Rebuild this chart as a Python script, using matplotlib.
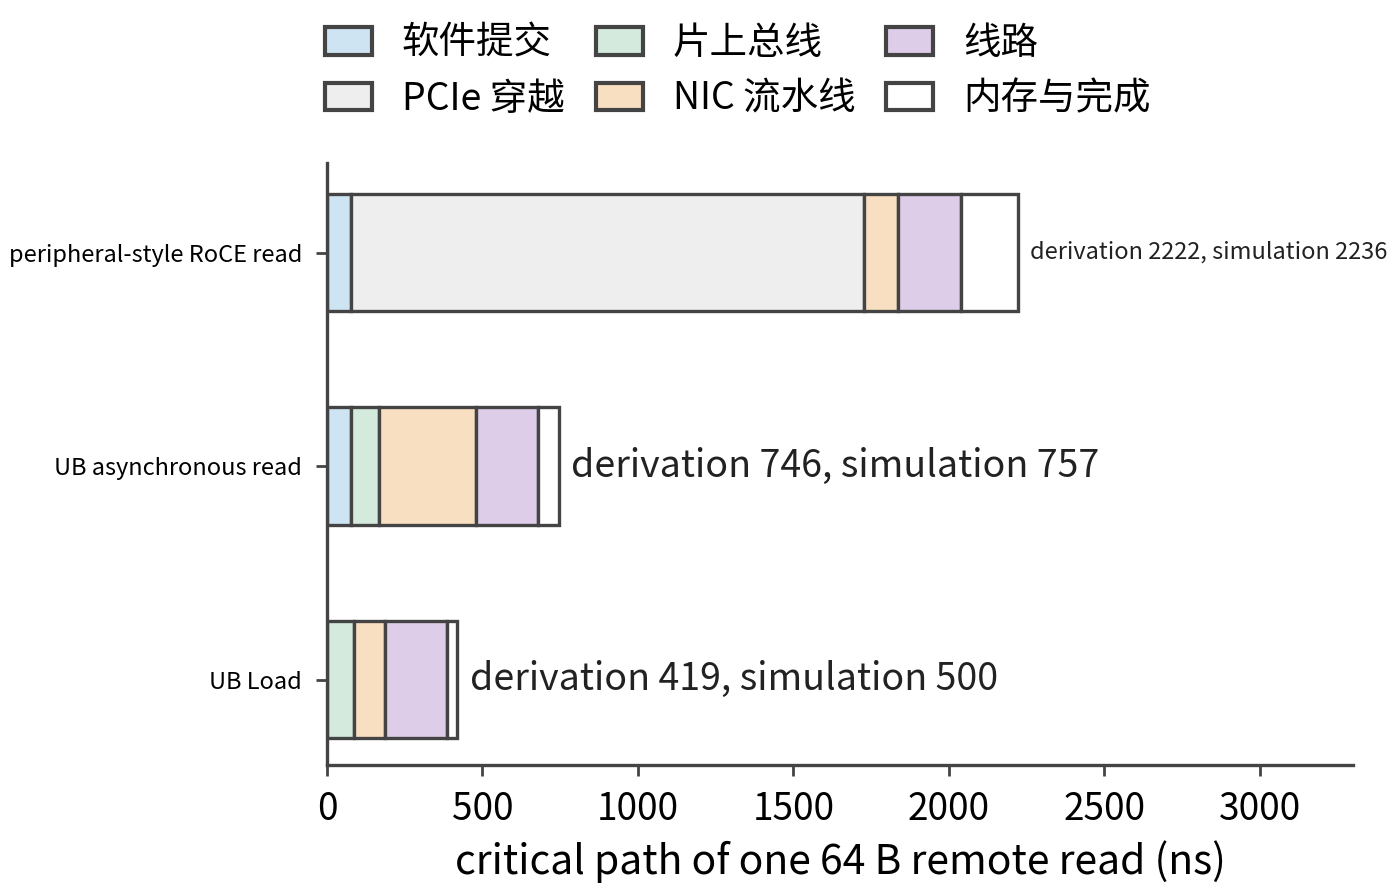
import matplotlib
matplotlib.use("Agg")
import matplotlib.pyplot as plt
import numpy as np
from matplotlib.patches import Patch

plt.rcParams["font.family"] = ["Noto Sans CJK SC", "DejaVu Sans"]

paths = ["peripheral-style RoCE read", "UB asynchronous read", "UB Load"]
stages = ["软件提交", "PCIe 穿越", "片上总线", "NIC 流水线", "线路", "内存与完成"]
colors = ["#cfe4f3", "#eeeeee", "#d3eadc", "#f9dfc1", "#ddcde8", "#ffffff"]

# ns per stage, one list per stage (order matches paths)
software = [77, 77, 0]
pcie = [1651, 0, 0]
onchip = [0, 90, 88]
nic = [110, 312, 98]
wire = [200, 200, 200]
memory = [184, 67, 33]

derivation = [2222, 746, 419]
simulation = [2236, 757, 500]

stage_values = [software, pcie, onchip, nic, wire, memory]
edge = "#444444"

fig = plt.figure(figsize=(7, 4.46), dpi=200)
ax = fig.add_axes([0.2336, 0.1424, 0.7328, 0.675])

y = np.arange(len(paths))
left = np.zeros(len(paths))
for vals, col in zip(stage_values, colors):
    vals = np.array(vals, dtype=float)
    mask = vals > 0
    ax.barh(y[mask], vals[mask], left=left[mask], height=0.55,
            color=col, edgecolor=edge, linewidth=1.2)
    left += vals

for i in range(len(paths)):
    fs = 8.5 if i == 0 else 13.5
    ax.annotate(f"derivation {derivation[i]}, simulation {simulation[i]}",
                xy=(left[i], y[i]), xytext=(4.5, 0), textcoords="offset points",
                va="center", ha="left", fontsize=fs, color="#222222")

ax.set_yticks(y)
ax.set_yticklabels(paths, fontsize=8.5)
ax.set_ylim(2.4, -0.42)
ax.set_xlim(0, 3300)
ax.set_xticks([0, 500, 1000, 1500, 2000, 2500, 3000])
ax.tick_params(axis="x", labelsize=13.3, length=4, width=1, color=edge, pad=5)
ax.tick_params(axis="y", length=4, width=1, color=edge, pad=5)
ax.set_xlabel("critical path of one 64 B remote read (ns)", fontsize=14.7, labelpad=4)
for s in ["top", "right"]:
    ax.spines[s].set_visible(False)
for s in ["left", "bottom"]:
    ax.spines[s].set_color(edge)
    ax.spines[s].set_linewidth(1.2)

handles = [Patch(facecolor=c, edgecolor=edge, linewidth=1.5, label=l)
           for c, l in zip(colors, stages)]
fig.legend(handles=handles, ncol=3, frameon=False, fontsize=13.5,
           loc="upper left", bbox_to_anchor=(0.208, 1.011),
           handlelength=1.25, handleheight=0.75, handletextpad=0.8,
           columnspacing=0.83, labelspacing=0.45)

fig.savefig("out.png", dpi=200)
